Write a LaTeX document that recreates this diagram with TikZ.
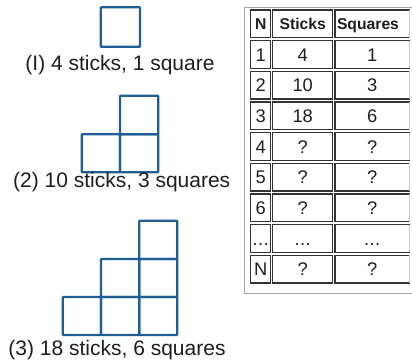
\documentclass[tikz,border=0pt]{standalone}
\usepackage{fontspec}
\setmainfont{Liberation Sans}
\newcommand\tdots{.\kern0.5pt.\kern0.5pt.}
\begin{document}
\begin{tikzpicture}[x=1pt,y=-1pt,
  sq/.style={draw=sqblue,line width=2.3pt,rounded corners=0.8pt},
  lbl/.style={anchor=base,inner sep=0pt,text=txtgray,font=\fontsize{21}{24}\selectfont},
  cellbox/.style={draw=cellgray,line width=1.1pt},
  hd/.style={inner sep=0pt,text=txtgray,text height=11.3pt,text depth=0pt,font=\fontsize{15.7}{18}\selectfont\bfseries},
  dt/.style={inner sep=0pt,text=txtgray,text height=13pt,text depth=0pt,font=\fontsize{18.3}{21}\selectfont}]
\definecolor{sqblue}{HTML}{1F5F95}
\definecolor{txtgray}{HTML}{1E1E1E}
\definecolor{cellgray}{HTML}{333333}
\useasboundingbox (0,0) rectangle (412,362);
% figure 1
\draw[sq] (100.7,7.3) rectangle (140,46.7);
\node[lbl] (l1) at (120,70.7) {(I) 4 sticks, 1 square};
% figure 2
\draw[sq] (120,95.7) rectangle (158.3,134.3);
\draw[sq] (81.7,134.3) rectangle (120,172.3);
\draw[sq] (120,134.3) rectangle (158.3,172.3);
\node[lbl] (l2) at (121.7,187.3) {(2) 10 sticks, 3 squares};
% figure 3
\draw[sq] (139.3,220.7) rectangle (177.3,259);
\draw[sq] (101,259) rectangle (139.3,297);
\draw[sq] (139.3,259) rectangle (177.3,297);
\draw[sq] (62.7,297) rectangle (101,335);
\draw[sq] (101,297) rectangle (139.3,335);
\draw[sq] (139.3,297) rectangle (177.3,335);
\node[lbl] (l3) at (117,355.7) {(3) 18 sticks, 6 squares};
% table outer border
\draw[gray!70,line width=1pt] (418,7) -- (244,7) -- (244,293) -- (418,293);
% table cells
\foreach \i/\a/\b/\c in {
  0/N/Sticks/Squares,1/1/4/1,2/2/10/3,3/3/18/6,4/4/?/?,5/5/?/?,6/6/?/?,7/\tdots/\tdots/\tdots,8/N/?/?}{
  \pgfmathsetmacro{\t}{10+30.67*\i}
  \pgfmathsetmacro{\bt}{\t+27.67}
  \pgfmathsetmacro{\m}{\t+13.83}
  \draw[cellbox] (250.7,\t) rectangle (270.7,\bt);
  \draw[cellbox] (272.7,\t) rectangle (332.7,\bt);
  \draw[cellbox] (409.5,\bt) -- (335,\bt) -- (335,\t) -- (409.5,\t);
  \draw[gray!40,line width=1.1pt] (409.5,\t) -- (409.5,\bt);
  \ifnum\i=0
    \node[hd] (n\i) at (260.7,\m) {\a};
    \node[hd] (s\i) at (302.7,\m) {\b};
    \node[hd] (q\i) at (368,\m) {\c};
  \else
    \node[dt] (n\i) at (260.7,\m) {\a};
    \node[dt] (s\i) at (302.7,\m) {\b};
    \node[dt] (q\i) at (372.2,\m) {\c};
  \fi
}
\end{tikzpicture}
\end{document}
